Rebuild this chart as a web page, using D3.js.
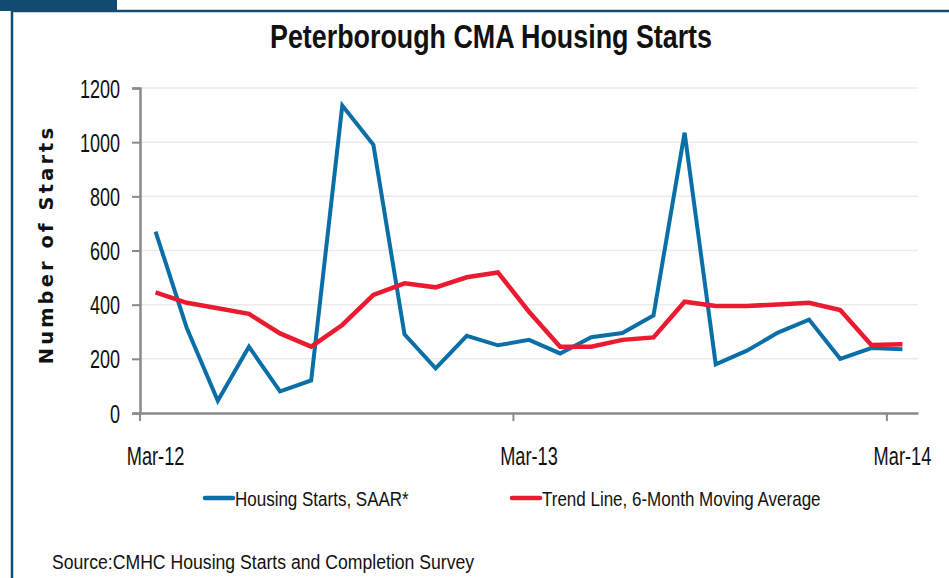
<!DOCTYPE html>
<html>
<head>
<meta charset="utf-8">
<script src="https://cdn.jsdelivr.net/npm/d3@7"></script>
<style>
  body { margin: 0; background: #fff; }
  text { font-family: "Liberation Sans", Arial, sans-serif; fill: #111; }
</style>
</head>
<body>
<div id="chart"></div>
<script>
// monthly categories, Mar-12 .. Mar-14
const months = ["Mar-12","Apr-12","May-12","Jun-12","Jul-12","Aug-12","Sep-12","Oct-12","Nov-12","Dec-12","Jan-13","Feb-13",
    "Mar-13","Apr-13","May-13","Jun-13","Jul-13","Aug-13","Sep-13","Oct-13","Nov-13","Dec-13","Jan-14","Feb-14","Mar-14"];
const xLabels = ["Mar-12", "Mar-13", "Mar-14"];
const yTicks = [0, 200, 400, 600, 800, 1000, 1200];

// Housing Starts, SAAR*
const starts = [670, 315, 45, 245, 80, 120, 1135, 990, 290, 165, 285, 250,
    270, 220, 280, 295, 360, 1035, 180, 230, 297, 345, 200, 240, 235];
// Trend Line, 6-Month Moving Average
const trend = [445, 407, 387, 366, 294, 245, 325, 436, 479, 464, 501, 519,
    374, 245, 245, 270, 279, 411, 395, 395, 401, 407, 380, 251, 254];

const W = 949, H = 578;
const margin = {top: 88, right: 31, bottom: 165, left: 140};
const width = W - margin.left - margin.right,
    height = H - margin.top - margin.bottom;

const navy = "#124b70", blue = "#0a6fa6", red = "#ea1b30", axisCol = "#8a8a8a";

// the original uses a narrow humanist face; squeeze text horizontally around its anchor
function squeeze(sel, k) {
    sel.each(function () {
        const t = d3.select(this);
        const x0 = +t.attr("x") || 0;
        t.attr("transform", `translate(${x0 * (1 - k)},0) scale(${k},1)`);
    });
}

const root = d3.select("#chart").append("svg")
    .attr("width", W)
    .attr("height", H);

// frame: tab + top and left rules
root.append("rect").attr("x", 0).attr("y", 0).attr("width", 117).attr("height", 11).attr("fill", navy);
root.append("line").attr("x1", 11).attr("x2", W).attr("y1", 11).attr("y2", 11)
    .attr("stroke", navy).attr("stroke-width", 2.5);
root.append("line").attr("x1", 12).attr("x2", 12).attr("y1", 10).attr("y2", H)
    .attr("stroke", navy).attr("stroke-width", 2.5);

// title
root.append("text")
    .attr("x", 491).attr("y", 48)
    .attr("text-anchor", "middle")
    .style("font-size", "34px")
    .style("font-weight", "bold")
    .text("Peterborough CMA Housing Starts")
    .call(squeeze, 0.79);

const svg = root.append("g")
    .attr("transform", `translate(${margin.left}, ${margin.top})`);

const x = d3.scaleBand()
    .domain(months)
    .range([0, width])
    .padding(0);

const y = d3.scaleLinear()
    .domain([0, 1200])
    .range([height, 0]);

// gridlines
svg.append("g")
    .selectAll("line")
    .data(yTicks.filter(d => d > 0))
    .enter()
    .append("line")
    .attr("x1", 0).attr("x2", width)
    .attr("y1", d => y(d)).attr("y2", d => y(d))
    .attr("stroke", "#ebebeb")
    .attr("stroke-width", 1.5);

// Y axis
const yAxis = svg.append("g")
    .call(d3.axisLeft(y).tickValues(yTicks).tickSize(8).tickPadding(12).tickFormat(d3.format("d")));
yAxis.selectAll("text").style("font-size", "25px").attr("dy", "0.36em").call(squeeze, 0.72);

// X axis: labels centred on the category, ticks on category boundaries
const xAxis = svg.append("g")
    .attr("transform", `translate(0, ${height})`)
    .call(d3.axisBottom(x).tickValues(xLabels).tickSize(0).tickPadding(34));
xAxis.selectAll("text").style("font-size", "26px").call(squeeze, 0.7);
svg.append("g")
    .selectAll("line")
    .data(xLabels)
    .enter()
    .append("line")
    .attr("x1", d => x(d)).attr("x2", d => x(d))
    .attr("y1", height).attr("y2", height + 8)
    .attr("stroke", axisCol).attr("stroke-width", 2);

root.selectAll(".domain").attr("stroke", axisCol).attr("stroke-width", 2.5);
yAxis.selectAll(".tick line").attr("stroke", axisCol).attr("stroke-width", 2);

svg.append("text")
    .attr("transform", "rotate(-90)")
    .attr("x", -(y(600)) + 6).attr("y", -87)
    .attr("text-anchor", "middle")
    .style("font-family", "'DejaVu Sans', sans-serif")
    .style("font-size", "19.5px")
    .style("font-weight", "bold")
    .style("letter-spacing", "3.1px")
    .text("Number of Starts");

const line = d3.line()
    .x((d, i) => x(months[i]) + x.bandwidth() / 2)
    .y(d => y(d));

svg.append("path")
    .datum(starts)
    .attr("fill", "none")
    .attr("stroke", blue)
    .attr("stroke-width", 4)
    .attr("d", line);

svg.append("path")
    .datum(trend)
    .attr("fill", "none")
    .attr("stroke", red)
    .attr("stroke-width", 4.5)
    .attr("d", line);

// legend
const legend = [
    {name: "Housing Starts, SAAR*", color: blue, x: 205},
    {name: "Trend Line, 6-Month Moving Average", color: red, x: 512}
];
const lg = root.append("g").selectAll("g")
    .data(legend)
    .enter()
    .append("g")
    .attr("transform", d => `translate(${d.x}, 498)`);
lg.append("line")
    .attr("x1", 0).attr("x2", 28)
    .attr("stroke", d => d.color)
    .attr("stroke-width", 4.5)
    .attr("stroke-linecap", "round");
lg.append("text")
    .attr("x", 30).attr("y", 8)
    .style("font-size", "20px")
    .text(d => d.name)
    .call(squeeze, 0.85);

root.append("text")
    .attr("x", 52).attr("y", 569)
    .style("font-size", "21px")
    .text("Source:CMHC Housing Starts and Completion Survey")
    .call(squeeze, 0.84);
</script>
</body>
</html>
